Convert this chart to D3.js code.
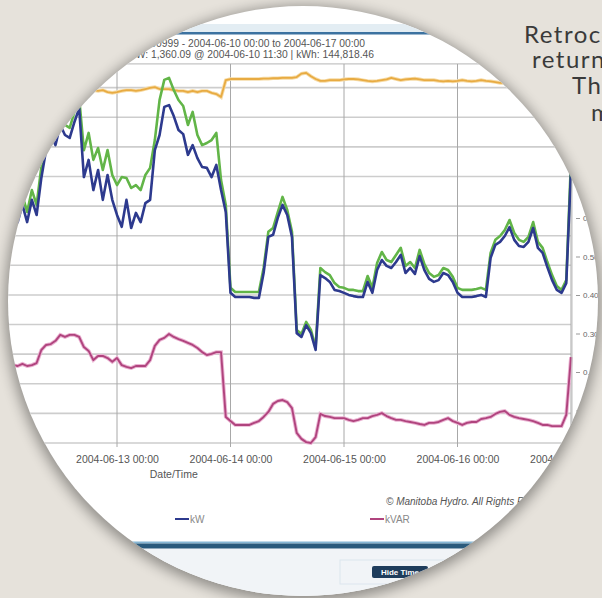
<!DOCTYPE html>
<html><head><meta charset="utf-8">
<script src="https://cdn.jsdelivr.net/npm/d3@7"></script>
<style>html,body{margin:0;padding:0;background:#e6e2db;overflow:hidden}</style>
</head><body>
<svg id="c" width="602" height="598"></svg>
<script>
// ---- data (hourly samples starting 2004-06-12 00:00) ----
const startTime = "2004-06-12 00:00";
const kW = [770,787,760,746,804,746,821,770,895,989,
1040,1006,1074,1040,1030,1084,1131,898,956,854,
922,821,905,821,770,730,821,726,777,746,
810,821,989,1040,1135,1141,1104,1057,1043,973,
1006,962,932,929,898,939,854,780,507,493,
493,493,493,490,490,574,696,703,760,804,
770,696,371,358,398,371,314,567,557,544,
517,513,507,500,496,493,493,544,507,584,
618,598,591,611,635,574,591,571,631,584,
554,544,550,574,567,544,507,493,493,493,
496,500,493,625,669,679,699,729,686,665,
662,679,726,659,642,594,550,517,507,540,
922];
const kVA = [804,821,794,780,837,780,854,804,932,1023,
1074,1040,1108,1074,1064,1118,1165,989,1047,956,
996,922,989,905,871,898,895,861,871,854,
905,929,1023,1158,1226,1233,1192,1158,1138,1074,
1118,1040,1006,1013,1023,1047,888,804,524,510,
510,510,510,510,510,591,713,726,780,831,
787,713,382,368,409,382,324,591,577,567,
540,527,524,517,517,513,513,564,524,608,
645,618,611,635,659,598,611,591,652,604,
574,561,567,591,584,561,524,517,517,517,
520,524,517,642,686,699,719,753,709,686,
679,696,746,679,659,611,567,530,517,550,
956];
const kVAR = [274,267,263,260,267,260,263,270,314,331,
334,345,365,358,365,365,358,324,311,280,
294,294,287,274,287,263,257,253,260,260,
260,280,328,348,355,368,358,351,345,338,
331,321,307,297,301,307,307,88,74,61,
61,61,61,68,74,88,105,132,142,145,
138,118,34,14,3,0,20,98,91,88,
84,84,84,78,74,78,84,84,91,95,
101,91,84,78,78,74,71,68,64,61,
68,68,71,78,84,74,68,61,68,71,
71,81,84,88,98,105,108,95,88,84,
81,78,74,68,61,61,57,57,57,95,
290];
const PF = [0.930,0.927,0.932,0.930,0.925,0.930,0.935,0.932,0.930,0.927,
0.930,0.932,0.935,0.932,0.930,0.927,0.930,0.932,0.930,0.932,
0.930,0.932,0.927,0.925,0.927,0.930,0.932,0.932,0.930,0.932,
0.935,0.938,0.940,0.935,0.935,0.935,0.932,0.930,0.930,0.927,
0.930,0.927,0.930,0.930,0.925,0.922,0.914,0.958,0.961,0.961,
0.961,0.961,0.961,0.961,0.961,0.962,0.962,0.963,0.963,0.964,
0.964,0.964,0.966,0.975,0.977,0.968,0.961,0.956,0.956,0.958,
0.958,0.958,0.960,0.961,0.961,0.960,0.958,0.956,0.955,0.956,
0.958,0.960,0.964,0.961,0.958,0.960,0.961,0.962,0.960,0.958,
0.958,0.958,0.956,0.955,0.956,0.955,0.956,0.958,0.956,0.955,
0.956,0.958,0.956,0.955,0.953,0.951,0.951,0.953,0.951,0.953,
0.955,0.953,0.951,0.953,0.955,0.953,0.951,0.953,0.955,0.953,
0.951];
const xDomain = ["2004-06-10 00:00","2004-06-17 00:00"];
const xTickLabels = ["2004-06-11 00:00","2004-06-12 00:00","2004-06-13 00:00","2004-06-14 00:00","2004-06-15 00:00","2004-06-16 00:00","2004-06-17 00:00"];
const kwTicks = [0,100,200,300,400,500,600,700,800,900,1000,1100,1200];
const pfTicks = [0.1,0.2,0.3,0.4,0.5,0.6];
const legendLabels = ["kVA","kW","kVAR","PF"];
const titleLines = ["Meter 6200999 - 2004-06-10 00:00 to 2004-06-17 00:00","Peak kW: 1,360.09 @ 2004-06-10 11:30  |  kWh: 144,818.46"];
const axisTitle = "Date/Time";
const copyright = "\u00A9 Manitoba Hydro. All Rights Reserved.";
const buttonLabel = "Hide Time";
const sideText = ["Retrocommissioning","returned","The","more"];

// ---- drawing ----
const svg = d3.select("#c");
const parse = d3.timeParse("%Y-%m-%d %H:%M");
const t0 = parse(startTime);
const times = kW.map((_, i) => d3.timeHour.offset(t0, i));
const colors = {kVA:"#62b548", kW:"#2d3a8e", kVAR:"#b0447e", PF:"#e8ab42"};

const defs = svg.append("defs");
defs.append("clipPath").attr("id","lens").append("circle").attr("cx",303).attr("cy",301).attr("r",295);
const f = defs.append("filter").attr("id","sh").attr("x","-20%").attr("y","-20%").attr("width","140%").attr("height","140%");
f.append("feGaussianBlur").attr("stdDeviation",7);

// side text (behind lens)
const sidePos = [[524,43],[532,68],[572,94],[591,121]];
svg.append("g").selectAll("text").data(sideText).join("text")
  .attr("x",(d,i)=>sidePos[i][0]).attr("y",(d,i)=>sidePos[i][1])
  .attr("font-family","Lato, 'Open Sans', sans-serif").attr("font-size",24)
  .attr("letter-spacing",1.5).attr("fill","#3a3a3a").text(d=>d);

// lens shadow + face
svg.append("circle").attr("cx",303).attr("cy",304).attr("r",298).attr("fill","#000").attr("opacity",0.38).attr("filter","url(#sh)");
svg.append("circle").attr("cx",303).attr("cy",301).attr("r",295).attr("fill","#fff");

const g = svg.append("g").attr("clip-path","url(#lens)");
const font = "'Liberation Sans', Arial, sans-serif";

// header
g.append("rect").attr("x",0).attr("y",24).attr("width",602).attr("height",8).attr("fill","#e3edf3");
g.append("rect").attr("x",0).attr("y",32).attr("width",602).attr("height",2.5).attr("fill","#3c72a0");

// scales
const x = d3.scaleTime().domain(xDomain.map(parse)).range([-223.5, 571]);
const y = d3.scaleLinear().domain([0,1280]).range([443, 443-1280*0.29615]);
const y2 = d3.scaleLinear().domain([0,1]).range([449, 64]);
const [xl, xr] = x.range();

// title
g.append("g").selectAll("text").data(titleLines).join("text")
  .attr("x",(d,i)=> i===0 ? 365 : 374).attr("y",(d,i)=>47+i*10.5)
  .attr("text-anchor","end").attr("font-family",font).attr("font-size",10.3)
  .attr("fill","#555").text(d=>d);

// horizontal gridlines
g.append("g").selectAll("line").data(kwTicks).join("line")
  .attr("x1",xl).attr("x2",xr).attr("y1",d=>y(d)).attr("y2",d=>y(d))
  .attr("stroke","#cdcdcd").attr("stroke-width",1.6);
// plot top border
g.append("line").attr("x1",xl).attr("x2",xr).attr("y1",y.range()[1]).attr("y2",y.range()[1]).attr("stroke","#c4c4c4").attr("stroke-width",1.2);
// vertical gridlines
g.append("g").selectAll("line").data(xTickLabels.map(parse)).join("line")
  .attr("x1",d=>x(d)).attr("x2",d=>x(d)).attr("y1",y.range()[1]).attr("y2",447)
  .attr("stroke","#a8a8a8").attr("stroke-width",1);

// series
const line = (arr, sc) => d3.line().x((d,i)=>x(times[i])).y(d=>sc(d))(arr);
g.append("path").attr("d",line(PF,y2)).attr("fill","none").attr("stroke","#f6dba6").attr("stroke-width",3.6);
g.append("path").attr("d",line(PF,y2)).attr("fill","none").attr("stroke",colors.PF).attr("stroke-width",1.8).attr("stroke-linejoin","round");
g.append("path").attr("d",line(kVA,y)).attr("fill","none").attr("stroke",colors.kVA).attr("stroke-width",2.6).attr("stroke-linejoin","round");
g.append("path").attr("d",line(kW,y)).attr("fill","none").attr("stroke",colors.kW).attr("stroke-width",2.6).attr("stroke-linejoin","round");
g.append("path").attr("d",line(kVAR,y)).attr("fill","none").attr("stroke","#eab3d2").attr("stroke-width",3.8);
g.append("path").attr("d",line(kVAR,y)).attr("fill","none").attr("stroke",colors.kVAR).attr("stroke-width",1.9).attr("stroke-linejoin","round");

// right border
g.append("line").attr("x1",xr+1).attr("x2",xr+1).attr("y1",y.range()[1]).attr("y2",443).attr("stroke","#bdbdbd");

// x axis
const xa = g.append("g").attr("transform","translate(0,443)")
  .call(d3.axisBottom(x).tickValues(xTickLabels.map(parse)).tickFormat(d3.timeFormat("%Y-%m-%d %H:%M")).tickSize(0).tickPadding(13));
xa.select(".domain").remove();
xa.selectAll("text").attr("font-family",font).attr("font-size",10.5).attr("fill","#555");

// right pf axis
const ya = g.append("g").attr("transform",`translate(${xr+5},0)`)
  .call(d3.axisRight(y2).tickValues(pfTicks).tickFormat(d3.format(".2f")).tickSize(4).tickPadding(3));
ya.select(".domain").remove();
ya.selectAll("line").attr("stroke","#999");
ya.selectAll("text").attr("font-family",font).attr("font-size",8).attr("fill","#666");

// axis title
g.append("text").attr("x",(xl+xr)/2).attr("y",478).attr("text-anchor","middle")
  .attr("font-family",font).attr("font-size",10.5).attr("fill","#555").text(axisTitle);
// copyright
g.append("text").attr("x",386).attr("y",505).attr("font-family",font).attr("font-style","italic")
  .attr("font-size",10).attr("fill","#555").text(copyright);

// legend
const lg = g.append("g").selectAll("g").data(legendLabels).join("g")
  .attr("transform",(d,i)=>`translate(${175+(i-1)*195},519)`);
lg.append("line").attr("x1",0).attr("x2",14).attr("stroke",d=>colors[d]).attr("stroke-width",2.2);
lg.append("text").attr("x",15).attr("y",3.5).attr("font-family",font).attr("font-size",10).attr("fill","#888").text(d=>d);

// footer bar
g.append("rect").attr("x",0).attr("y",548.5).attr("width",602).attr("height",60).attr("fill","#f1f4f7");
g.append("rect").attr("x",0).attr("y",541.5).attr("width",602).attr("height",2).attr("fill","#86b6d4");
g.append("rect").attr("x",0).attr("y",543.5).attr("width",602).attr("height",5).attr("fill","#2a5a7c");
g.append("rect").attr("x",340).attr("y",560).attr("width",130).attr("height",24).attr("fill","none").attr("stroke","#dce5ee");
g.append("rect").attr("x",372).attr("y",566).attr("width",56).attr("height",12).attr("rx",2).attr("fill","#1f3d5c");
g.append("text").attr("x",400).attr("y",575).attr("text-anchor","middle").attr("font-family",font)
  .attr("font-size",8).attr("font-weight","bold").attr("fill","#fff").text(buttonLabel);
</script>
</body></html>
